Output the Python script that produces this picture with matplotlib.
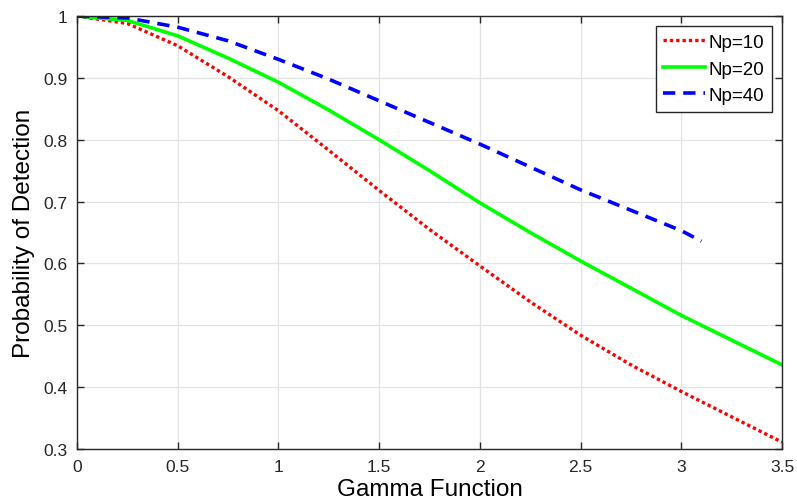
import numpy as np
import matplotlib.pyplot as plt

plt.rcParams['font.family'] = ['Liberation Sans', 'DejaVu Sans']

# Values
gamma = [0, 0.25, 0.5, 0.75, 1.0, 1.25, 1.5, 1.75, 2.0, 2.25, 2.5, 2.75, 3.0, 3.25, 3.5]
pd_np10 = [1.0, 0.988, 0.952, 0.902, 0.847, 0.783, 0.718, 0.655, 0.596, 0.538, 0.484, 0.436, 0.393, 0.352, 0.311]
pd_np20 = [1.0, 0.993, 0.968, 0.932, 0.893, 0.848, 0.800, 0.750, 0.698, 0.650, 0.604, 0.560, 0.516, 0.476, 0.436]

gamma_np40 = [0, 0.25, 0.5, 0.75, 1.0, 1.25, 1.5, 1.75, 2.0, 2.25, 2.5, 2.75, 3.0, 3.1]
pd_np40 = [1.0, 0.997, 0.982, 0.960, 0.930, 0.898, 0.863, 0.828, 0.793, 0.756, 0.719, 0.686, 0.653, 0.636]

fig = plt.figure(figsize=(7.97, 5.02), dpi=100)
ax = fig.add_axes([0.0966, 0.1036, 0.8846, 0.8624])

ax.plot(gamma, pd_np10, color=(1, 0, 0), lw=2.4, linestyle=(0, (1, 0.9)), label='Np=10')
ax.plot(gamma, pd_np20, color=(0, 1, 0), lw=2.6, label='Np=20')
ax.plot(gamma_np40, pd_np40, color=(0, 0, 1), lw=2.6, linestyle=(0, (3.4, 2.2)), label='Np=40')

ax.set_xlim(0, 3.5)
ax.set_ylim(0.3, 1.0)
ax.set_xticks(np.arange(0, 3.51, 0.5))
ax.set_xticklabels(['0', '0.5', '1', '1.5', '2', '2.5', '3', '3.5'])
ax.set_yticks(np.arange(0.3, 1.01, 0.1))
ax.set_yticklabels(['0.3', '0.4', '0.5', '0.6', '0.7', '0.8', '0.9', '1'])
ax.grid(True, color='#e3e3e3', lw=0.9)
ax.set_axisbelow(True)
ax.tick_params(direction='in', top=True, right=True, labelsize=12.5, length=5, width=1,
               colors='#262626', pad=7)
for s in ax.spines.values():
    s.set_color('#262626')
    s.set_linewidth(1)

ax.set_xlabel('Gamma Function', fontsize=17.5, labelpad=3)
ax.set_ylabel('Probability of Detection', fontsize=17.5, labelpad=6)

leg = ax.legend(loc='upper right', fontsize=13.5, fancybox=False, framealpha=1,
                edgecolor='#262626', handlelength=2.2, handletextpad=0.2,
                borderaxespad=0.55, labelspacing=0.5, borderpad=0.4)
leg.get_frame().set_linewidth(1)

fig.savefig('out.png', dpi=100)
